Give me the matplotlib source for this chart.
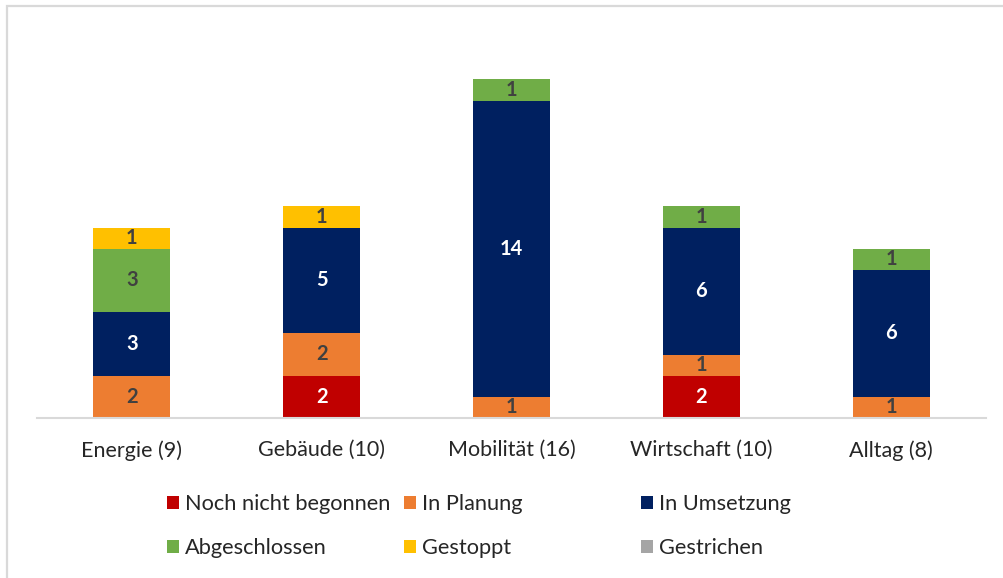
import numpy as np
import matplotlib.pyplot as plt
from matplotlib.patches import Rectangle

plt.rcParams['font.family'] = ['Lato', 'DejaVu Sans']

# Data
categories = ['Energie (9)', 'Gebäude (10)', 'Mobilität (16)', 'Wirtschaft (10)', 'Alltag (8)']
series = ['Noch nicht begonnen', 'In Planung', 'In Umsetzung',
          'Abgeschlossen', 'Gestoppt', 'Gestrichen']
noch_nicht = [0, 2, 0, 2, 0]
in_planung = [2, 2, 1, 1, 1]
in_umsetzung = [3, 5, 14, 6, 6]
abgeschlossen = [3, 0, 1, 1, 1]
gestoppt = [1, 1, 0, 0, 0]
gestrichen = [0, 0, 0, 0, 0]

values = [noch_nicht, in_planung, in_umsetzung, abgeschlossen, gestoppt, gestrichen]
colors = ['#C00000', '#ED7D31', '#002060', '#70AD47', '#FFC000', '#A5A5A5']
label_colors = ['white', '#404040', 'white', '#404040', '#404040', '#404040']

fig = plt.figure(figsize=(10.04, 5.78), dpi=100, facecolor='white')
ax = fig.add_axes([37 / 1004, 160 / 578, 949 / 1004, 381 / 578])

# outer frame (cut off at right and bottom like the screenshot)
fig.patches.append(Rectangle((7 / 1004, -0.1), 1.2, (578 - 6) / 578 + 0.1,
                             transform=fig.transFigure, fill=False,
                             edgecolor='#d9d9d9', linewidth=1.6))

x = np.arange(len(categories))
bottom = np.zeros(len(categories))
handles = []
for name, vals, col, lc in zip(series, values, colors, label_colors):
    vals = np.array(vals)
    bars = ax.bar(x, vals, width=0.405, bottom=bottom, color=col, label=name)
    handles.append(bars)
    for xi, b, v in zip(x, bottom, vals):
        if v > 0:
            ax.text(xi, b + v / 2, str(v), ha='center', va='center',
                    color=lc, fontsize=14.5, fontweight='bold')
    bottom += vals

ax.set_xlim(-0.5, 4.5)
ax.set_ylim(0, 18)
ax.set_xticks(x)
ax.set_xticklabels(categories, fontsize=15.5, color='#262626')
ax.tick_params(axis='x', length=0, pad=16)
ax.set_yticks([])
for s in ['top', 'right', 'left']:
    ax.spines[s].set_visible(False)
ax.spines['bottom'].set_color('#d9d9d9')
ax.spines['bottom'].set_linewidth(1.5)

# legend: three fixed columns of two rows each
col_x = [167 / 1004, 404 / 1004, 641 / 1004]
for ci in range(3):
    hs = [handles[ci], handles[ci + 3]]
    labs = [series[ci], series[ci + 3]]
    fig.legend(hs, labs, loc='upper left', bbox_to_anchor=(col_x[ci], 84 / 578),
               frameon=False, fontsize=15.7, handlelength=0.55, handleheight=0.55,
               handletextpad=0.28, labelspacing=1.12, borderpad=0, borderaxespad=0,
               labelcolor='#262626')

fig.savefig('out.png', dpi=100, facecolor='white')
